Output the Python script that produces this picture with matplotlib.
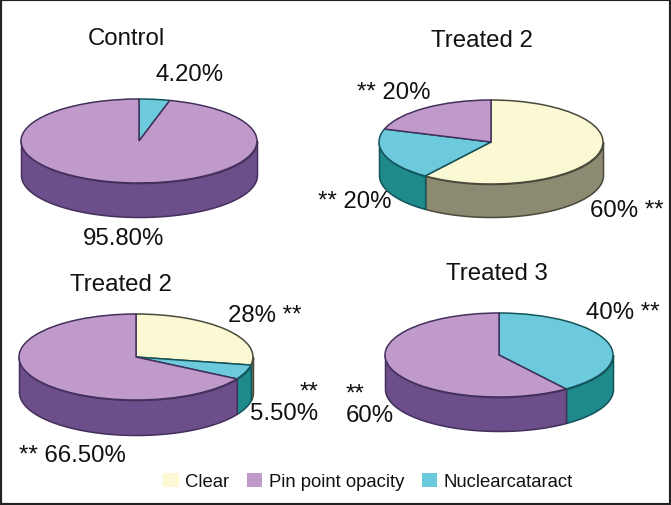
import numpy as np
import matplotlib
matplotlib.use("Agg")
import matplotlib.pyplot as plt
from matplotlib.patches import Patch, Rectangle

W, H = 671, 506
plt.rcParams['font.family'] = ['Liberation Sans', 'DejaVu Sans']

category_names = ['Clear', 'Pin point opacity', 'Nuclearcataract']
top_colors = {'Clear': '#FBF9D3', 'Pin point opacity': '#C09ACA', 'Nuclearcataract': '#6DCADC'}
side_colors = {'Clear': '#8C8A70', 'Pin point opacity': '#6C4E8A', 'Nuclearcataract': '#1E8A8C'}
edge_colors = {'Clear': '#4A4A3C', 'Pin point opacity': '#43305C', 'Nuclearcataract': '#12545A'}

control_cats = ['Nuclearcataract', 'Pin point opacity']
control_vals = [4.2, 95.8]
treated2a_cats = ['Clear', 'Nuclearcataract', 'Pin point opacity']
treated2a_vals = [60, 20, 20]
treated2b_cats = ['Clear', 'Nuclearcataract', 'Pin point opacity']
treated2b_vals = [28, 5.5, 66.5]
treated3_cats = ['Nuclearcataract', 'Pin point opacity']
treated3_vals = [40, 60]

# layout in pixels: centre x, centre y, radius x, radius y, depth
pies = [
    (control_cats, control_vals, (139, 142, 118, 42, 34)),
    (treated2a_cats, treated2a_vals, (491, 143, 112, 42, 33)),
    (treated2b_cats, treated2b_vals, (136, 358, 117, 43, 35)),
    (treated3_cats, treated3_vals, (499, 356, 114, 42, 34)),
]

# text, left px, baseline px, alignment of the lines
labels = [
    ('Control', 88, 45, 'left'), ('4.20%', 155, 81, 'left'), ('95.80%', 83, 245, 'left'),
    ('Treated 2', 431, 47, 'left'), ('** 20%', 357, 99, 'left'), ('** 20%', 318, 208, 'left'),
    ('60% **', 590, 217, 'left'),
    ('Treated 2', 70, 291, 'left'), ('28% **', 228, 322, 'left'), ('**\n5.50%', 250, 420, 'right'),
    ('** 66.50%', 19, 462, 'left'),
    ('Treated 3', 446, 280, 'left'), ('40% **', 586, 319, 'left'), ('**\n60%', 346, 422, 'left'),
]

fig = plt.figure(figsize=(W / 100, H / 100), dpi=100, facecolor='white')

for cats, vals, (cx, cy, rx, ry, depth) in pies:
    ax = fig.add_axes([(cx - rx) / W, (H - cy - ry) / H, 2 * rx / W, 2 * ry / H])
    wedges, _ = ax.pie(vals, colors=[top_colors[c] for c in cats], startangle=90,
                       counterclock=False, radius=1,
                       wedgeprops=dict(linewidth=1.1, clip_on=False, zorder=3))
    for w, c in zip(wedges, cats):
        w.set_edgecolor(edge_colors[c])
    d = depth / ry
    start = 90.0
    for c, v in zip(cats, vals):
        end = start - v * 3.6
        lo, hi = max(end, -180), min(start, 0)
        if hi > lo:
            t = np.radians(np.linspace(lo, hi, 120))
            x, y = np.cos(t), np.sin(t)
            ax.fill_between(x, y - d, y, facecolor=side_colors[c], edgecolor=edge_colors[c],
                            linewidth=1.1, clip_on=False, zorder=1)
        start = end
    ax.set_aspect('auto')
    ax.set_xlim(-1, 1)
    ax.set_ylim(-1, 1)
    ax.axis('off')

for s, x, y, ma in labels:
    fig.text(x / W, 1 - y / H, s, fontsize=17.3, ha='left', va='baseline', ma=ma,
             linespacing=0.95, color='#111111')

handles = [Patch(facecolor=top_colors[c], edgecolor='none', label=c) for c in category_names]
fig.legend(handles=handles, ncol=3, frameon=False, fontsize=13.3,
           loc='center left', bbox_to_anchor=(156 / W, 1 - 482.5 / H), borderaxespad=0,
           handlelength=0.83, handleheight=0.83, handletextpad=0.36, columnspacing=0.95,
           labelcolor='#111111')

fig.add_artist(Rectangle((0, 0), 1, 1, transform=fig.transFigure, fill=False,
                         edgecolor='#222222', linewidth=3))
fig.savefig('out.png', dpi=100)
